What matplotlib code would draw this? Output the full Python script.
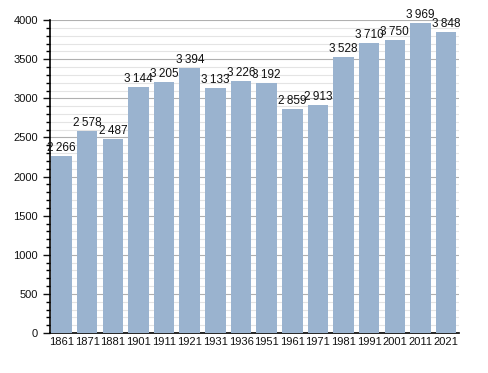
import matplotlib.pyplot as plt
from matplotlib.ticker import MultipleLocator
import numpy as np

plt.rcParams['font.family'] = ['Liberation Sans', 'DejaVu Sans']

years = ["1861", "1871", "1881", "1901", "1911", "1921", "1931", "1936",
         "1951", "1961", "1971", "1981", "1991", "2001", "2011", "2021"]
population = [2266, 2578, 2487, 3144, 3205, 3394, 3133, 3226,
              3192, 2859, 2913, 3528, 3710, 3750, 3969, 3848]

fig = plt.figure(figsize=(4.88, 3.73), dpi=100)
ax = fig.add_axes([0.1025, 0.107, 0.838, 0.839])

x = np.arange(len(years))
ax.bar(x, population, width=0.8, color="#9ab3cf", zorder=3)

for xi, v in zip(x, population):
    lab = f"{v:,}".replace(",", "\u2009")
    ax.text(xi, v + 25, lab, ha="center", va="bottom", fontsize=8.5, color="#111111", zorder=4)

ax.set_xlim(-0.45, len(years) - 0.5)
ax.set_ylim(0, 4000)
ax.set_xticks(x)
ax.set_xticklabels(years, fontsize=8)
ax.tick_params(axis="x", length=0, pad=3, colors="#111111")
ax.yaxis.set_major_locator(MultipleLocator(500))
ax.yaxis.set_minor_locator(MultipleLocator(100))
ax.tick_params(axis="y", which="major", length=5, labelsize=8, width=1, colors="#111111")
ax.tick_params(axis="y", which="minor", length=3, width=1)
ax.grid(axis="y", which="major", color="#b0b0b0", linewidth=0.8, zorder=0)
ax.grid(axis="y", which="minor", color="#e4e4e4", linewidth=0.8, zorder=0)

for s in ["top", "right"]:
    ax.spines[s].set_visible(False)
ax.spines["left"].set_linewidth(1.2)
ax.spines["bottom"].set_linewidth(1.2)

fig.savefig("out.png", dpi=100)
